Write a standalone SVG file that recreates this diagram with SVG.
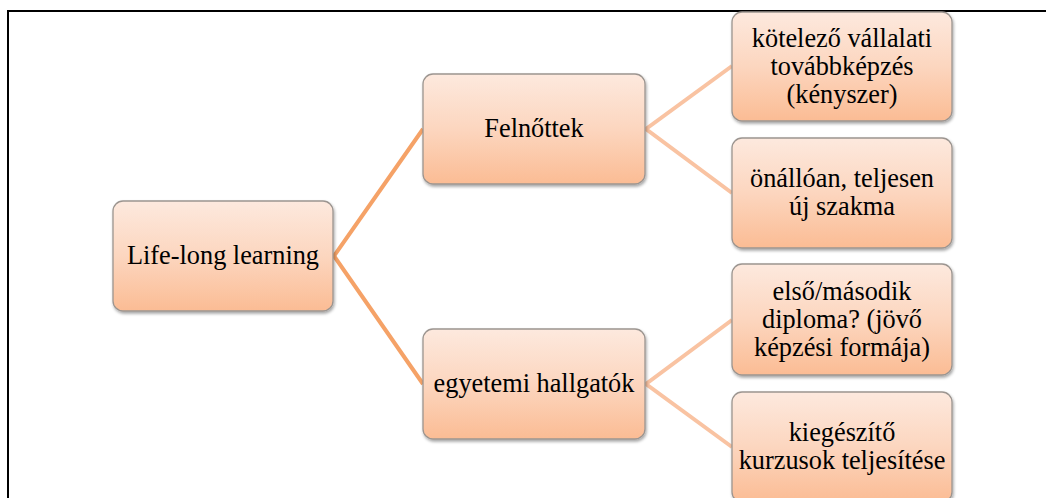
<svg xmlns="http://www.w3.org/2000/svg" width="1046" height="498" viewBox="0 0 1046 498">
  <defs>
    <linearGradient id="peach" x1="0" y1="0" x2="0" y2="1">
      <stop offset="0" stop-color="#fde9de"/>
      <stop offset="0.5" stop-color="#fcd6bf"/>
      <stop offset="1" stop-color="#fbbc94"/>
    </linearGradient>
    <filter id="shadow" x="-10%" y="-10%" width="125%" height="130%">
      <feDropShadow dx="1" dy="2" stdDeviation="1.6" flood-color="#000" flood-opacity="0.35"/>
    </filter>
  </defs>
  <style>
    .box { fill: url(#peach); stroke: #9c9590; stroke-width: 1.3; filter: url(#shadow); }
    .lbl { font-family: "Liberation Serif", "Times New Roman", serif; font-size: 26.3px; fill: #000; text-anchor: middle; }
    .c1 { stroke: #f5a267; stroke-width: 4; fill: none; stroke-linejoin: miter; }
    .c2 { stroke: #f9c3a2; stroke-width: 4; fill: none; stroke-linejoin: miter; }
    .frame { stroke: #000; stroke-width: 2; fill: none; }
  </style>

  <rect x="0" y="0" width="1046" height="498" fill="#fff"/>

  <!-- outer frame -->
  <path class="frame" d="M8,498 V11 H1046"/>

  <!-- connectors -->
  <g id="connectors">
    <path class="c1" d="M423,129 L334,256 L423,384"/>
    <path class="c2" d="M732,66 L646,129 L732,193"/>
    <path class="c2" d="M732,320 L646,384 L732,447"/>
  </g>

  <g id="root">
    <rect class="box" x="113" y="201" width="220" height="110" rx="10"/>
    <text class="lbl" x="223" y="264">Life-long learning</text>
  </g>

  <g id="felnottek">
    <rect class="box" x="423" y="74" width="222" height="110" rx="10"/>
    <text class="lbl" x="534" y="137">Felnőttek</text>
  </g>

  <g id="hallgatok">
    <rect class="box" x="423" y="329" width="222" height="110" rx="10"/>
    <text class="lbl" x="534" y="392">egyetemi hallgatók</text>
  </g>

  <g id="kotelezo">
    <rect class="box" x="732" y="12" width="220" height="109" rx="10"/>
    <text class="lbl" x="842" y="47">kötelező vállalati</text>
    <text class="lbl" x="842" y="75">továbbképzés</text>
    <text class="lbl" x="842" y="103">(kényszer)</text>
  </g>

  <g id="onalloan">
    <rect class="box" x="732" y="138" width="220" height="110" rx="10"/>
    <text class="lbl" x="842" y="187">önállóan, teljesen</text>
    <text class="lbl" x="842" y="215">új szakma</text>
  </g>

  <g id="diploma">
    <rect class="box" x="732" y="264" width="220" height="111" rx="10"/>
    <text class="lbl" x="842" y="300">első/második</text>
    <text class="lbl" x="842" y="328">diploma? (jövő</text>
    <text class="lbl" x="842" y="356">képzési formája)</text>
  </g>

  <g id="kiegeszito">
    <rect class="box" x="732" y="392" width="220" height="110" rx="10"/>
    <text class="lbl" x="842" y="441">kiegészítő</text>
    <text class="lbl" x="842" y="469">kurzusok teljesítése</text>
  </g>
</svg>
